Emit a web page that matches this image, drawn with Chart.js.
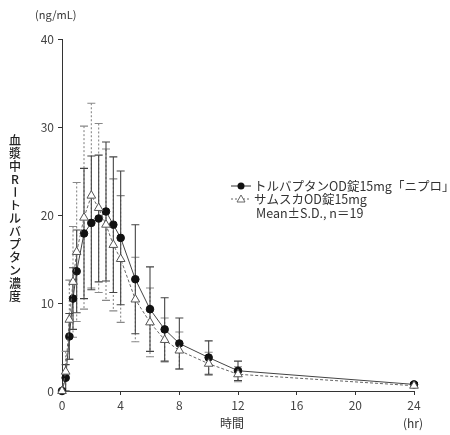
<!DOCTYPE html>
<html>
<head>
<meta charset="utf-8">
<script src="https://cdn.jsdelivr.net/npm/chart.js@4"></script>
<style>
  html, body { margin: 0; padding: 0; background: #fff; }
  #wrap { width: 450px; height: 435px; }
</style>
</head>
<body>
<div id="wrap"><canvas id="pkChart" width="450" height="435"></canvas></div>
<script>
// sampling times (hr)
const times = [0, 0.25, 0.5, 0.75, 1, 1.5, 2, 2.5, 3, 3.5, 4, 5, 6, 7, 8, 10, 12, 24];

// トルバプタンOD錠15mg「ニプロ」 mean / SD (ng/mL)
const nipro = [0, 1.5, 6.2, 10.5, 13.6, 17.9, 19.1, 19.6, 20.4, 18.9, 17.4, 12.7, 9.3, 7.0, 5.4, 3.8, 2.3, 0.75];
const niproSD = [0, 1.5, 2.6, 3.5, 4.7, 7.4, 7.6, 7.2, 7.9, 7.7, 7.6, 6.2, 4.8, 3.6, 2.9, 1.9, 1.1, 0.2];

// サムスカOD錠15mg mean / SD (ng/mL)
const samsca = [0, 2.2, 8.1, 12.4, 15.8, 19.7, 22.2, 20.8, 18.9, 16.6, 15.0, 10.4, 7.8, 5.8, 4.6, 3.1, 1.9, 0.6];
const samscaSD = [0, 2.3, 4.5, 6.3, 7.9, 10.4, 10.5, 9.6, 8.6, 7.5, 7.2, 4.8, 3.9, 2.5, 2.1, 1.3, 0.85, 0.15];

const xTicks = [0, 4, 8, 12, 16, 20, 24];
const yTicks = [0, 10, 20, 30, 40];

const jpFont = '"Noto Sans CJK JP", "Noto Sans", sans-serif';

const toPoints = (vals) => vals.map((v, i) => ({ x: times[i], y: v }));

// error bars drawn under the lines, positioned by the scales
const errorBars = {
  id: 'errorBars',
  beforeDatasetsDraw(chart) {
    const { ctx, scales: { x, y } } = chart;
    chart.data.datasets.forEach((ds) => {
      ctx.save();
      ctx.strokeStyle = ds.barColor;
      ctx.lineWidth = 1.1;
      ds.data.forEach((p, j) => {
        const sd = ds.sd[j];
        if (!sd) return;
        const px = x.getPixelForValue(p.x);
        const top = y.getPixelForValue(p.y + sd);
        const bot = y.getPixelForValue(Math.max(0, p.y - sd));
        ctx.setLineDash(ds.barDash);
        ctx.beginPath();
        ctx.moveTo(px, top);
        ctx.lineTo(px, bot);
        ctx.stroke();
        ctx.setLineDash([]);
        ctx.beginPath();
        ctx.moveTo(px - 4, top); ctx.lineTo(px + 4, top);
        ctx.moveTo(px - 4, bot); ctx.lineTo(px + 4, bot);
        ctx.stroke();
      });
      ctx.restore();
    });
  }
};

// titles, unit labels and the legend block
const annotations = {
  id: 'annotations',
  afterDraw(chart) {
    const { ctx } = chart;
    ctx.save();
    ctx.fillStyle = '#333';
    ctx.textBaseline = 'middle';

    ctx.font = '11px ' + jpFont;
    ctx.textAlign = 'left';
    ctx.fillText('(ng/mL)', 35, 15);
    ctx.font = '12px ' + jpFont;
    ctx.textAlign = 'center';
    ctx.fillText('時間', 232, 423);
    ctx.fillText('(hr)', 413, 423);

    // vertical y title
    const chars = ['血', '漿', '中', 'R', 'ー', 'ト', 'ル', 'バ', 'プ', 'タ', 'ン', '濃', '度'];
    ctx.font = '500 12px ' + jpFont;
    ctx.fillStyle = '#222';
    chars.forEach((c, i) => {
      const cy = 140 + i * 13;
      if (c === 'ー') {
        ctx.save();
        ctx.translate(15, cy);
        ctx.rotate(Math.PI / 2);
        ctx.fillText(c, 0, 0);
        ctx.restore();
      } else {
        ctx.fillText(c, 15, cy);
      }
    });

    // legend
    ctx.font = '12.5px ' + jpFont;
    ctx.textAlign = 'left';
    ctx.strokeStyle = '#333';
    ctx.lineWidth = 1;
    ctx.beginPath();
    ctx.moveTo(231, 186); ctx.lineTo(251, 186);
    ctx.stroke();
    ctx.fillStyle = '#111';
    ctx.beginPath();
    ctx.arc(241, 186, 3.5, 0, Math.PI * 2);
    ctx.fill();
    ctx.fillStyle = '#333';
    ctx.fillText('トルバプタンOD錠15mg「ニプロ」', 254, 186);

    ctx.setLineDash([2, 2]);
    ctx.strokeStyle = '#666';
    ctx.beginPath();
    ctx.moveTo(231, 199); ctx.lineTo(251, 199);
    ctx.stroke();
    ctx.setLineDash([]);
    ctx.fillStyle = '#fff';
    ctx.beginPath();
    ctx.moveTo(241, 195); ctx.lineTo(245, 202); ctx.lineTo(237, 202); ctx.closePath();
    ctx.fill(); ctx.stroke();
    ctx.fillStyle = '#333';
    ctx.fillText('サムスカOD錠15mg', 254, 199);
    ctx.fillText('Mean±S.D., n＝19', 256, 213);
    ctx.restore();
  }
};

const ctx = document.getElementById('pkChart').getContext('2d');

const pkChart = new Chart(ctx, {
  type: 'line',
  data: {
    datasets: [
      {
        label: 'サムスカOD錠15mg',
        data: toPoints(samsca),
        sd: samscaSD,
        barColor: '#888',
        barDash: [2, 2],
        borderColor: '#666',
        borderWidth: 1,
        borderDash: [3, 2],
        pointStyle: 'triangle',
        pointRadius: 5,
        pointBackgroundColor: '#fff',
        pointBorderColor: '#555',
        pointBorderWidth: 1,
        tension: 0,
        clip: false,
      },
      {
        label: 'トルバプタンOD錠15mg「ニプロ」',
        data: toPoints(nipro),
        sd: niproSD,
        barColor: '#444',
        barDash: [],
        borderColor: '#444',
        borderWidth: 1,
        pointStyle: 'circle',
        pointRadius: 3.8,
        pointBackgroundColor: '#111',
        pointBorderColor: '#111',
        pointBorderWidth: 1,
        tension: 0,
        clip: false,
      }
    ]
  },
  options: {
    responsive: false,
    animation: false,
    events: [],
    layout: { padding: { top: 39, right: 36, left: 0, bottom: 0 } },
    plugins: {
      legend: { display: false },
      tooltip: { enabled: false },
    },
    scales: {
      x: {
        type: 'linear',
        min: 0,
        max: 24,
        afterBuildTicks: (axis) => { axis.ticks = xTicks.map(v => ({ value: v })); },
        afterFit: (axis) => { axis.height = 44; },
        grid: { drawOnChartArea: false, tickLength: 4, color: '#333' },
        border: { color: '#333', width: 1 },
        ticks: { color: '#444', padding: 3, font: { family: jpFont, size: 12 } },
      },
      y: {
        type: 'linear',
        min: 0,
        max: 40,
        afterBuildTicks: (axis) => { axis.ticks = yTicks.map(v => ({ value: v })); },
        afterFit: (axis) => { axis.width = 62; },
        grid: { drawOnChartArea: false, tickLength: 4, color: '#333' },
        border: { color: '#333', width: 1 },
        ticks: { color: '#444', padding: 4, font: { family: jpFont, size: 12 } },
      }
    }
  },
  plugins: [errorBars, annotations]
});
</script>
</body>
</html>
